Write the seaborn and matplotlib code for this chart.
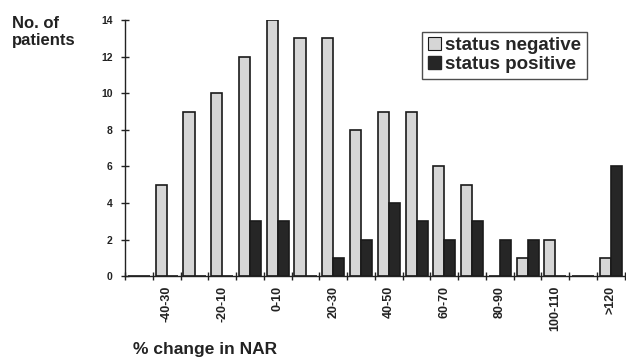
import pandas as pd
import matplotlib
matplotlib.use('Agg')
import matplotlib.pyplot as plt
import matplotlib.patches as mpatches
import seaborn as sns

categories = ['', '-40-30', '-30-20', '-20-10', '-10-0', '0-10', '10-20', '20-30', '30-40',
              '40-50', '50-60', '60-70', '70-80', '80-90', '90-100', '100-110', '110-120', '>120']
status_negative = [0, 5, 9, 10, 12, 14, 13, 13, 8, 9, 9, 6, 5, 0, 1, 2, 0, 1]
status_positive = [0, 0, 0, 0, 3, 3, 0, 1, 2, 4, 3, 2, 3, 2, 2, 0, 0, 6]
y_ticks = [0, 2, 4, 6, 8, 10, 12, 14]

neg_color = '#d6d6d6'
pos_color = '#262626'

df = pd.DataFrame({
    'range': categories * 2,
    'count': status_negative + status_positive,
    'status': ['status negative'] * len(categories) + ['status positive'] * len(categories),
})

sns.set_style('ticks')
plt.rcParams['font.family'] = ['Liberation Sans', 'DejaVu Sans']

fig = plt.figure(figsize=(6.26, 3.6), dpi=100)
ax = fig.add_axes([0.2, 0.233, 0.798, 0.711])

sns.barplot(
    data=df, x='range', y='count', hue='status',
    order=categories, hue_order=['status negative', 'status positive'],
    palette=[neg_color, pos_color], width=0.8,
    edgecolor='#1a1a1a', linewidth=1.2, legend=False, ax=ax,
)

ax.set_xlim(-0.5, len(categories) - 0.5)
ax.set_ylim(0, 14)
ax.set_yticks(y_ticks)
ax.set_yticklabels([str(v) for v in y_ticks], fontsize=7.5, fontweight='bold', color='#222222')

label_idx = list(range(1, len(categories), 2))
ax.set_xticks(label_idx)
ax.set_xticklabels([categories[i] for i in label_idx], rotation=90, fontsize=9,
                   fontweight='bold', color='#222222')
ax.set_xticks([i + 0.5 for i in range(-1, len(categories))], minor=True)
ax.tick_params(axis='x', which='major', length=0, pad=7)
ax.tick_params(axis='x', which='minor', length=6, width=1, direction='inout', color='#222222')
ax.tick_params(axis='y', length=6, width=1, direction='inout', color='#222222', pad=6)

ax.set_xlabel('')
ax.set_ylabel('')
sns.despine(ax=ax)
for s in ['left', 'bottom']:
    ax.spines[s].set_linewidth(1.0)
    ax.spines[s].set_color('#222222')

handles = [
    mpatches.Patch(facecolor=neg_color, edgecolor='#1a1a1a', linewidth=0.8, label='status negative'),
    mpatches.Patch(facecolor=pos_color, edgecolor=pos_color, label='status positive'),
]
leg = ax.legend(handles=handles, loc='upper left', bbox_to_anchor=(0.595, 0.955),
                prop={'weight': 'bold', 'size': 13.5}, frameon=True, fancybox=False,
                handlelength=0.7, handleheight=0.7, handletextpad=0.2,
                borderpad=0.3, labelspacing=0.1, borderaxespad=0)
leg.get_frame().set_edgecolor('#222222')
leg.get_frame().set_linewidth(1.0)

fig.text(0.019, 0.955, 'No. of\npatients', ha='left', va='top', fontsize=12,
         fontweight='bold', color='#222222', linespacing=1.15)
fig.text(0.212, 0.028, '% change in NAR', ha='left', va='center', fontsize=12.5,
         fontweight='bold', color='#222222')

fig.savefig('out.png', dpi=100)
